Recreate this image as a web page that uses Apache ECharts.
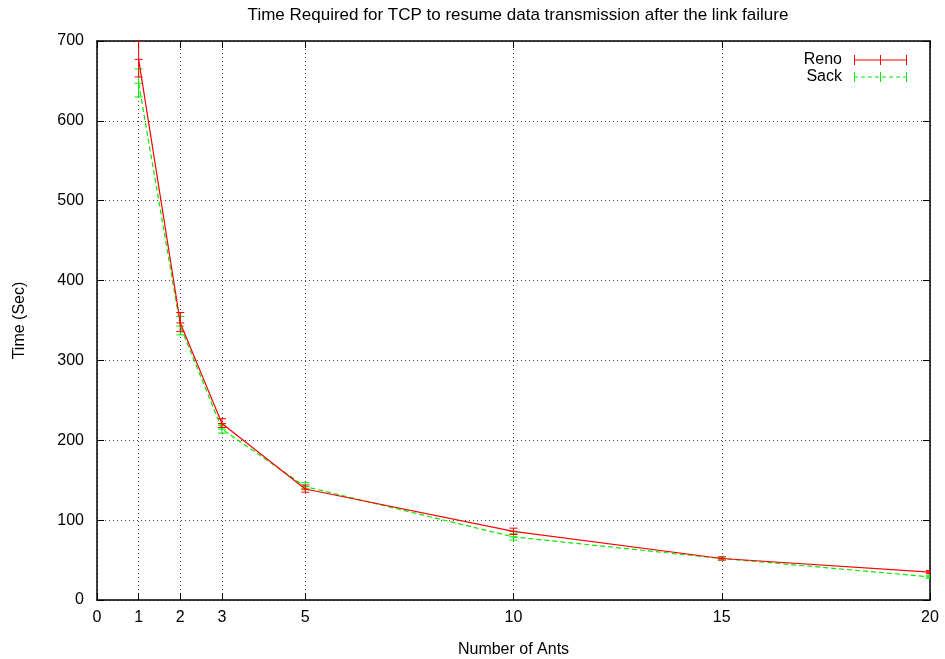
<!DOCTYPE html>
<html>
<head>
<meta charset="utf-8">
<script src="https://cdn.jsdelivr.net/npm/echarts@6/dist/echarts.min.js"></script>
<style>
  html, body { margin: 0; padding: 0; background: #fff; }
  #chart { width: 945px; height: 659px; }
</style>
</head>
<body>
<div id="chart"></div>
<script>
// number of ants on the x axis
const ants = [1, 2, 3, 5, 10, 15, 20];
const xTicks = [0, 1, 2, 3, 5, 10, 15, 20];

// Reno: mean and error bar ends
const reno = [677, 347, 221, 139, 86, 52, 35];
const renoLow = [655, 336, 216, 135, 82, 50, 33];
const renoHigh = [700, 360, 227, 144, 90, 54, 37];

// Sack: mean and error bar ends
const sack = [647, 343, 214, 142, 79, 52, 29];
const sackLow = [630, 332, 209, 138, 75, 50, 27];
const sackHigh = [665, 355, 219, 147, 83, 54, 31];

const FONT = 'Liberation Sans, Arial, sans-serif';
const RED = '#ff0000';
const GREEN = '#00ee00';

function pairs(xs, ys) {
  return xs.map((x, i) => [x, ys[i]]);
}
function errData(xs, ys, lo, hi) {
  return xs.map((x, i) => [x, ys[i], lo[i], hi[i]]);
}

// gnuplot style error bar: vertical line, ticks at both ends and a "+" at the value
function errorBar(color) {
  return function (params, api) {
    const x = api.value(0);
    const mid = api.coord([x, api.value(1)]);
    const lo = api.coord([x, api.value(2)]);
    const hi = api.coord([x, api.value(3)]);
    const w = 4;
    const style = { stroke: color, lineWidth: 1 };
    return {
      type: 'group',
      children: [
        { type: 'line', shape: { x1: lo[0], y1: lo[1], x2: hi[0], y2: hi[1] }, style: style },
        { type: 'line', shape: { x1: lo[0] - w, y1: lo[1], x2: lo[0] + w, y2: lo[1] }, style: style },
        { type: 'line', shape: { x1: hi[0] - w, y1: hi[1], x2: hi[0] + w, y2: hi[1] }, style: style },
        { type: 'line', shape: { x1: mid[0] - w, y1: mid[1], x2: mid[0] + w, y2: mid[1] }, style: style }
      ]
    };
  };
}

// legend samples: line with end ticks and a centre tick
const renoIcon = 'path://M0,0h1v10h-1zM0,4.5h53v1h-53zM52,0h1v10h-1zM26,0h1v10h-1z';
let dashes = '';
for (let x = 0; x < 53; x += 7) {
  dashes += 'M' + x + ',4.5h' + Math.min(4, 53 - x) + 'v1h-' + Math.min(4, 53 - x) + 'z';
}
const sackIcon = 'path://M0,0h1v10h-1zM52,0h1v10h-1zM26,0h1v10h-1z' + dashes + 'M52,4.5h1v1h-1z';

const chart = echarts.init(document.getElementById('chart'));

const axisText = { color: '#000', fontFamily: FONT, fontSize: 16 };

const option = {
  animation: false,
  backgroundColor: '#fff',
  title: {
    text: 'Time Required for TCP to resume data transmission after the link failure',
    left: 513,
    textAlign: 'center',
    top: 2,
    textStyle: { fontFamily: FONT, fontSize: 17, fontWeight: 'normal', color: '#000' }
  },
  legend: {
    orient: 'vertical',
    right: 33,
    top: 47,
    align: 'right',
    itemWidth: 53,
    itemHeight: 10,
    itemGap: 1,
    textStyle: { fontFamily: FONT, fontSize: 16, color: '#000', lineHeight: 14, padding: [0, 7, 0, 0] },
    itemStyle: { borderWidth: 0 },
    data: [
      { name: 'Reno', icon: renoIcon, itemStyle: { color: RED } },
      { name: 'Sack', icon: sackIcon, itemStyle: { color: GREEN } }
    ]
  },
  grid: { left: 97, right: 15, top: 41, bottom: 59, outerBoundsMode: 'none' },
  xAxis: [
    {
      type: 'value',
      min: 0,
      max: 20,
      name: 'Number of Ants',
      nameLocation: 'middle',
      nameGap: 42,
      nameTextStyle: axisText,
      axisLine: { lineStyle: { color: '#000', width: 1.5 } },
      axisTick: { inside: true, length: 7, customValues: xTicks, lineStyle: { color: '#000' } },
      axisLabel: { customValues: xTicks, margin: 10, ...axisText },
      splitLine: { show: true, lineStyle: { color: '#444', type: [1, 3], width: 1 } }
    },
    {
      type: 'value',
      position: 'top',
      min: 0,
      max: 20,
      axisLine: { onZero: false, lineStyle: { color: '#000', width: 1.5 } },
      axisTick: { inside: true, length: 7, customValues: xTicks, lineStyle: { color: '#000' } },
      axisLabel: { show: false },
      splitLine: { show: false }
    }
  ],
  yAxis: [
    {
      type: 'value',
      min: 0,
      max: 700,
      interval: 100,
      name: 'Time (Sec)',
      nameLocation: 'middle',
      nameGap: 69,
      nameTextStyle: axisText,
      axisLine: { show: true, lineStyle: { color: '#000', width: 1.5 } },
      axisTick: { show: true, inside: true, length: 7, lineStyle: { color: '#000' } },
      axisLabel: { margin: 13, ...axisText },
      splitLine: { show: true, lineStyle: { color: '#444', type: [1, 3], width: 1 } }
    },
    {
      type: 'value',
      position: 'right',
      min: 0,
      max: 700,
      interval: 100,
      axisLine: { show: true, onZero: false, lineStyle: { color: '#000', width: 1.5 } },
      axisTick: { show: true, inside: true, length: 7, lineStyle: { color: '#000' } },
      axisLabel: { show: false },
      splitLine: { show: false }
    }
  ],
  series: [
    {
      name: 'Reno',
      type: 'line',
      data: pairs(ants, reno),
      symbol: 'none',
      color: RED,
      lineStyle: { color: RED, width: 1.2 },
      z: 3
    },
    {
      name: 'Sack',
      type: 'line',
      data: pairs(ants, sack),
      symbol: 'none',
      color: GREEN,
      lineStyle: { color: GREEN, width: 1.2, type: [5, 3] },
      z: 2
    },
    {
      name: 'Reno bars',
      type: 'custom',
      data: errData(ants, reno, renoLow, renoHigh),
      renderItem: errorBar(RED),
      clip: true,
      z: 3
    },
    {
      name: 'Sack bars',
      type: 'custom',
      data: errData(ants, sack, sackLow, sackHigh),
      renderItem: errorBar(GREEN),
      clip: true,
      z: 2
    }
  ]
};

chart.setOption(option);
</script>
</body>
</html>
